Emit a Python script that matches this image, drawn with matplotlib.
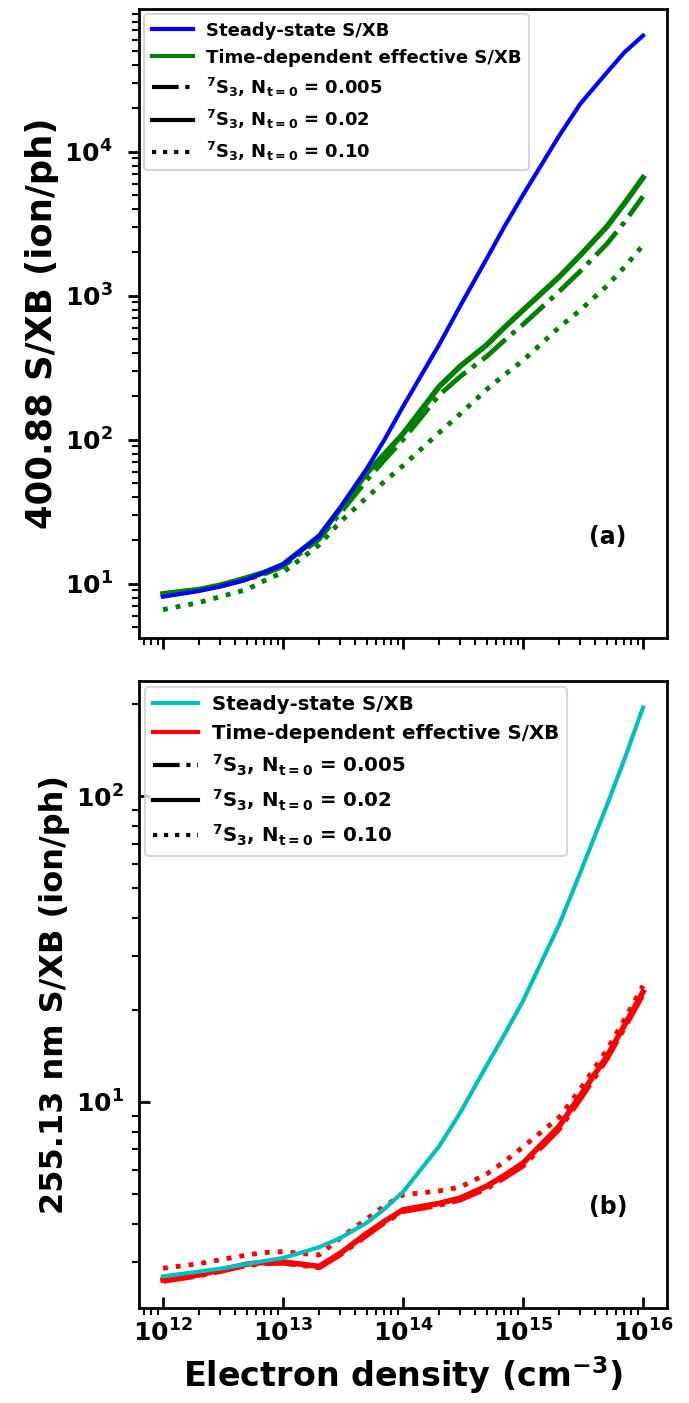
import matplotlib
matplotlib.use('Agg')
import matplotlib.pyplot as plt
from matplotlib.lines import Line2D

plt.rcParams['font.family'] = ['DejaVu Sans']
plt.rcParams['font.weight'] = 'bold'
plt.rcParams['axes.labelweight'] = 'bold'
plt.rcParams['mathtext.default'] = 'regular'
plt.rcParams['axes.linewidth'] = 2

# electron density grid (cm^-3)
density = [1e12, 2e12, 3e12, 5e12, 7e12,
           1e13, 2e13, 3e13, 5e13, 7e13,
           1e14, 2e14, 3e14, 5e14, 7e14,
           1e15, 2e15, 3e15, 5e15, 7e15, 1e16]

# (a) 400.88 nm
ss_400 = [8.13, 8.91, 9.55, 10.7, 12.0, 13.6, 21.4, 33.9, 63.1, 100,
          170, 457, 851, 1820, 3020, 5010, 12900, 21500, 35500, 49000, 64000]
td_400_005 = [8.51, 9.12, 9.66, 10.7, 11.7, 13.2, 20.4, 30.9, 52.5, 72.4,
              100, 204, 275, 380, 490, 631, 1070, 1480, 2290, 3240, 4900]
td_400_02 = [8.51, 9.12, 9.77, 11.0, 12.0, 13.6, 21.4, 33.1, 58.9, 79.4,
             110, 234, 324, 457, 603, 794, 1350, 1910, 3020, 4370, 6610]
td_400_10 = [6.61, 7.41, 8.13, 9.12, 10.5, 12.0, 18.6, 26.9, 39.8, 51.3,
             66.1, 112, 151, 224, 282, 355, 603, 794, 1170, 1580, 2240]

# (b) 255.13 nm
ss_255 = [2.69, 2.79, 2.85, 2.95, 3.02, 3.09, 3.35, 3.59, 4.03, 4.47,
          5.08, 7.16, 9.23, 13.2, 16.6, 21.4, 38.0, 56.2, 93.3, 132, 195]
td_255_005 = [2.59, 2.70, 2.79, 2.92, 2.96, 2.97, 2.87, 3.16, 3.66, 4.02,
              4.38, 4.59, 4.78, 5.21, 5.64, 6.17, 8.13, 10.2, 13.8, 17.4, 22.4]
td_255_02 = [2.62, 2.72, 2.82, 2.95, 2.99, 3.00, 2.90, 3.20, 3.72, 4.07,
             4.44, 4.66, 4.85, 5.31, 5.75, 6.31, 8.32, 10.5, 14.1, 17.8, 22.9]
td_255_10 = [2.86, 2.96, 3.05, 3.16, 3.22, 3.24, 3.16, 3.59, 4.15, 4.57,
             4.97, 5.12, 5.27, 5.82, 6.38, 7.13, 8.91, 11.0, 14.8, 18.6, 24.0]

labels = ['Steady-state S/XB', 'Time-dependent effective S/XB',
          r'$^{7}$S$_{3}$, N$_{t=0}$ = 0.005',
          r'$^{7}$S$_{3}$, N$_{t=0}$ = 0.02',
          r'$^{7}$S$_{3}$, N$_{t=0}$ = 0.10']

fig = plt.figure(figsize=(6.89, 14.03), dpi=100)
W, H = 689, 1403
ax1 = fig.add_axes([139/W, 1-638/H, 528/W, 629/H])
ax2 = fig.add_axes([139/W, 1-1308/H, 528/W, 627/H])


def panel(ax, ss, td005, td02, td10, c_ss, c_td, fs_leg):
    ax.loglog(density, td005, color=c_td, ls='-.', lw=3.5)
    ax.loglog(density, td02, color=c_td, ls='-', lw=4)
    ax.loglog(density, td10, color=c_td, ls=':', lw=3.5)
    ax.loglog(density, ss, color=c_ss, lw=3)
    handles = [Line2D([], [], color=c_ss, lw=3),
               Line2D([], [], color=c_td, lw=3),
               Line2D([], [], color='k', ls='-.', lw=3),
               Line2D([], [], color='k', ls='-', lw=3),
               Line2D([], [], color='k', ls=':', lw=3)]
    leg = ax.legend(handles, labels, loc='upper left',
                    handlelength=2.3, handletextpad=0.7, borderaxespad=0.3,
                    prop={'weight': 'bold', 'size': fs_leg})
    leg.get_frame().set_linewidth(1.5)


panel(ax1, ss_400, td_400_005, td_400_02, td_400_10, 'b', 'g', 13)
panel(ax2, ss_255, td_255_005, td_255_02, td_255_10, 'c', 'r', 14.2)

ax1.set_ylim(4.2, 9.8e4)
ax2.set_ylim(2.12, 238)

ax1.tick_params(which='major', direction='out', length=8, width=2, labelsize=18, pad=11)
ax1.tick_params(which='minor', direction='out', length=5, width=1.5)
ax1.tick_params(labelbottom=False)
ax2.tick_params(which='major', direction='in', length=8, width=2, labelsize=18, pad=11)
ax2.tick_params(axis='x', which='major', pad=8)
ax2.tick_params(which='minor', direction='out', length=5, width=1.5)

ax1.set_ylabel('400.88 S/XB (ion/ph)', fontsize=25.5, fontweight='bold')
ax2.set_ylabel('255.13 nm S/XB (ion/ph)', fontsize=23, fontweight='bold')
ax2.set_xlabel('Electron density (cm$^{-3}$)', fontsize=24, fontweight='bold', labelpad=6)

ax1.text(0.888, 0.16, '(a)', transform=ax1.transAxes, fontsize=17,
         fontweight='bold', ha='center', va='center')
ax2.text(0.888, 0.161, '(b)', transform=ax2.transAxes, fontsize=17,
         fontweight='bold', ha='center', va='center')

fig.savefig('out.png', dpi=100)
